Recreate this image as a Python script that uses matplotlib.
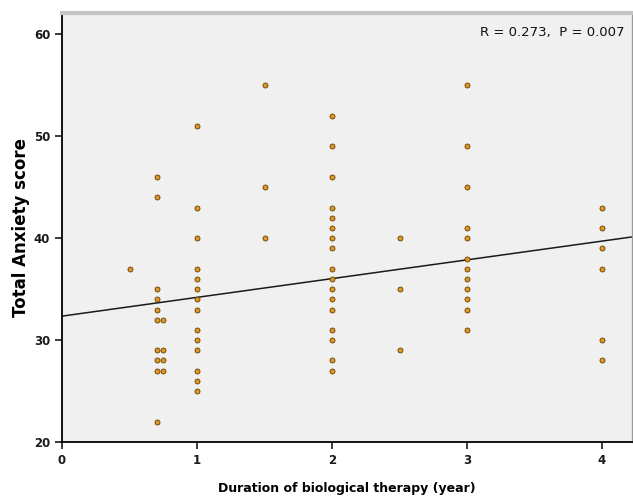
import numpy as np
import matplotlib
matplotlib.use("Agg")
import matplotlib.pyplot as plt

# Data: duration (years) and total anxiety score
x_05 = [0.5]
y_05 = [37]
x_07 = [0.7] * 9
y_07 = [46, 44, 35, 34, 33, 32, 29, 28, 27]
x_075 = [0.75] * 4 + [0.7]
y_075 = [32, 29, 28, 27, 22]
x_1 = [1.0] * 14
y_1 = [51, 43, 40, 37, 36, 35, 34, 33, 31, 30, 29, 27, 26, 25]
x_15 = [1.5] * 3
y_15 = [55, 45, 40]
x_2 = [2.0] * 17
y_2 = [52, 49, 46, 43, 42, 41, 40, 39, 37, 36, 35, 34, 33, 31, 30, 28, 27]
x_25 = [2.5] * 3
y_25 = [40, 35, 29]
x_3 = [3.0] * 12
y_3 = [55, 49, 45, 41, 40, 38, 37, 36, 35, 34, 33, 31]
x_4 = [4.0] * 6
y_4 = [43, 41, 39, 37, 30, 28]

duration = np.array(x_05 + x_07 + x_075 + x_1 + x_15 + x_2 + x_25 + x_3 + x_4)
anxiety = np.array(y_05 + y_07 + y_075 + y_1 + y_15 + y_2 + y_25 + y_3 + y_4)

# Fit line
fit_intercept = 32.35
fit_slope = 1.84

annotation = "R = 0.273,  P = 0.007"
xticks = [0, 1, 2, 3, 4]
yticks = [20, 30, 40, 50, 60]

plt.rcParams['font.family'] = ['DejaVu Sans']

fig = plt.figure(figsize=(6.33, 4.99), dpi=100)
ax = fig.add_axes([0.098, 0.1142, 0.900, 0.860])
ax.set_facecolor('#F0F0F0')

ax.set_xlim(0, 4.22)
ax.set_ylim(20, 62.1)

xl = np.array(ax.get_xlim())
ax.plot(xl, fit_intercept + fit_slope * xl, color='#1A1A1A', lw=1.1, zorder=2)

ax.scatter(duration, anxiety, s=13, c='#E3961F', edgecolors='#5E420E',
           linewidths=0.6, zorder=3)

ax.set_xticks(xticks)
ax.set_yticks(yticks)
ax.tick_params(axis='both', direction='out', length=5, width=1.2,
               labelsize=8.5, colors='#1A1A1A')
for lab in ax.get_xticklabels() + ax.get_yticklabels():
    lab.set_fontweight('bold')

ax.spines['left'].set_linewidth(1.3)
ax.spines['bottom'].set_linewidth(1.3)
ax.spines['top'].set_color('#C4C4C4')
ax.spines['top'].set_linewidth(3)
ax.spines['right'].set_color('#9A9A9A')
ax.spines['right'].set_linewidth(1.0)

ax.set_ylabel('Total Anxiety score', fontsize=12, fontweight='bold', labelpad=3)
ax.set_xlabel('Duration of biological therapy (year)', fontsize=9,
              fontweight='bold', labelpad=11)

ax.text(0.988, 0.955, annotation, transform=ax.transAxes, ha='right', va='center',
        fontsize=9.5, color='#111111')

fig.savefig('out.png', dpi=100)
